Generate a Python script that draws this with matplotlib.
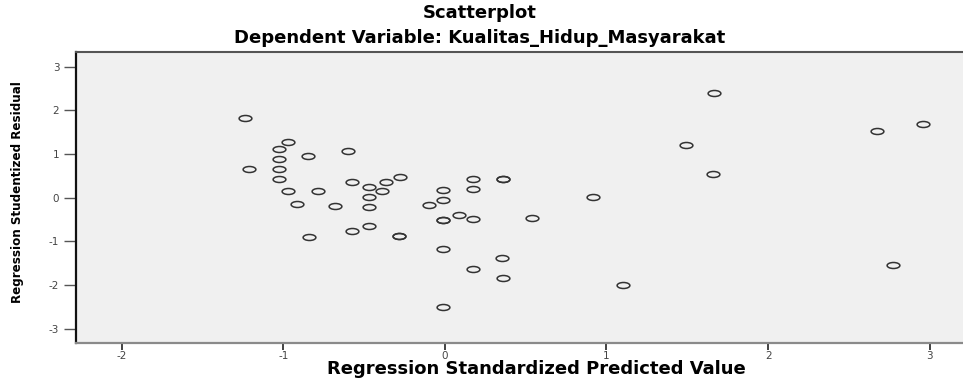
import matplotlib
matplotlib.use("Agg")
import matplotlib.pyplot as plt
import numpy as np
from matplotlib.path import Path
from matplotlib.transforms import Affine2D

plt.rcParams["axes.unicode_minus"] = False

pred = [-1.237, -0.973, -1.027, -1.027, -0.847, -0.598, -1.212, -1.027, -1.027,
        -0.573, -0.470, -0.363, -0.280, -0.388, -0.973, -0.787, -0.470, -0.915,
        -0.682, -0.470, -0.099, -0.011, -0.011, 0.173, 0.173, 0.359, 0.359,
        0.088, -0.011, -0.011, 0.173, -0.470, -0.573, -0.283, -0.283, -0.841,
        0.917, 0.538, -0.011, 0.354, 0.175, 0.359, 1.101, -0.014, 1.664,
        1.495, 1.657, 2.674, 2.960, 2.775]
resid = [1.817, 1.275, 1.114, 0.885, 0.961, 1.076, 0.650, 0.657, 0.428,
         0.359, 0.252, 0.352, 0.481, 0.160, 0.146, 0.160, 0.023, -0.151,
         -0.183, -0.206, -0.174, 0.176, -0.053, 0.421, 0.192, 0.428, 0.428,
         -0.396, -0.503, -0.503, -0.487, -0.659, -0.762, -0.870, -0.870, -0.906,
         0.023, -0.458, -1.185, -1.373, -1.625, -1.831, -2.005, -2.508, 2.396,
         1.206, 0.542, 1.519, 1.686, -1.540]
xticks = [-2, -1, 0, 1, 2, 3]
yticks = [-3, -2, -1, 0, 1, 2, 3]

fig = plt.figure(figsize=(9.63, 3.78), dpi=100)
W, H = 963.0, 378.0
# axes run past the right edge, the original was cropped there
ax = fig.add_axes([76 / W, 1 - 342.7 / H, (996 - 76) / W, (342.7 - 52) / H])
ax.set_facecolor("#f0f0f0")

ell = Path.unit_circle().transformed(Affine2D().scale(1.0, 0.47))
ax.plot(pred, resid, linestyle="none", marker=ell, markersize=9.2,
        markerfacecolor="none", markeredgecolor="#333333", markeredgewidth=1.1)

ax.set_xlim(-2.282, 3.41)
ax.set_ylim(-3.318, 3.334)
ax.set_xticks(xticks)
ax.set_yticks(yticks)
ax.tick_params(axis="x", direction="out", length=5, width=1.3, color="#333333",
               labelsize=7.5, labelcolor="#444444", pad=1)
ax.tick_params(axis="y", direction="out", length=9, width=1.0, color="#555555",
               labelsize=7.5, labelcolor="#444444", pad=3)

ax.spines["left"].set_color("#111111")
ax.spines["left"].set_linewidth(1.6)
ax.spines["top"].set_color("#555555")
ax.spines["top"].set_linewidth(1.5)
ax.spines["bottom"].set_color("#8a8a8a")
ax.spines["bottom"].set_linewidth(1.6)
ax.spines["right"].set_visible(False)

fig.text(480 / W, 1 - 13 / H, "Scatterplot", ha="center", va="center",
         fontsize=13, fontweight="bold", family="DejaVu Sans")
fig.text(480 / W, 1 - 38 / H, "Dependent Variable: Kualitas_Hidup_Masyarakat",
         ha="center", va="center", fontsize=13, fontweight="bold", family="DejaVu Sans")
fig.text(536 / W, 1 - 369 / H, "Regression Standardized Predicted Value",
         ha="center", va="center", fontsize=13, fontweight="bold", family="DejaVu Sans")
fig.text(18 / W, 1 - 192 / H, "Regression Studentized Residual", rotation=90,
         ha="center", va="center", fontsize=9.5, fontweight="bold",
         family="DejaVu Sans", fontstretch="condensed")

fig.savefig("out.png", dpi=100)
